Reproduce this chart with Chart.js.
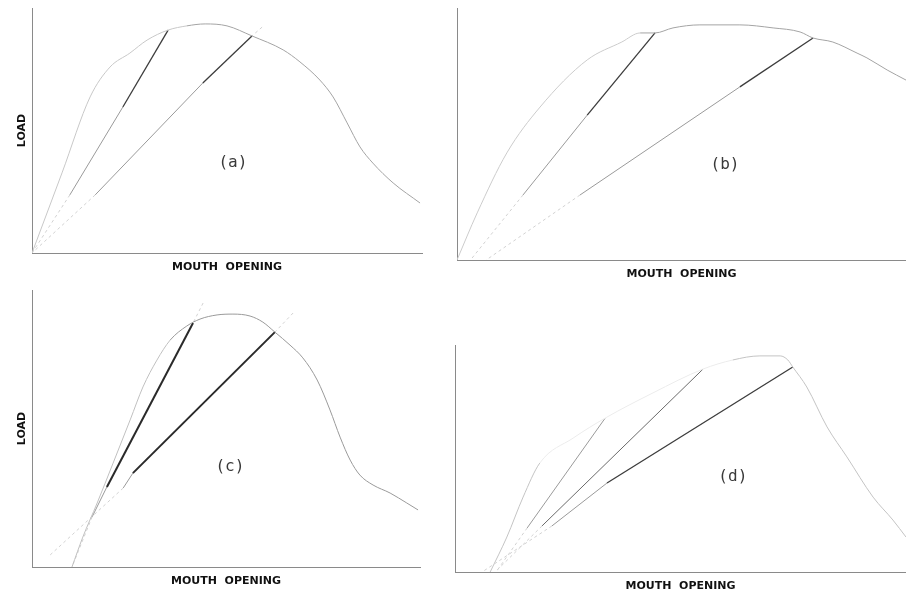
<!DOCTYPE html>
<html>
<head>
<meta charset="utf-8">
<script src="https://cdn.jsdelivr.net/npm/chart.js@4.4.0/dist/chart.umd.min.js"></script>
<style>
  body { margin: 0; background: #fff; }
  #wrap { position: relative; width: 906px; height: 593px; overflow: hidden; background: #fff; }
  canvas { position: absolute; }
</style>
</head>
<body>
<div id="wrap">
  <canvas id="chartA"></canvas>
  <canvas id="chartB"></canvas>
  <canvas id="chartC"></canvas>
  <canvas id="chartD"></canvas>
</div>
<script>
// values, 0..100 of each panel's axes
// (a)
const aEnvX = [0, 7.7, 14.9, 20.0, 25.1, 29.5, 34.9, 39.7, 44.4, 50.0, 56.4, 64.4, 68.7, 73.8, 77.2, 80.8, 84.1, 87.4, 92.6, 99.5];
const aEnvY = [0, 32.7, 63.7, 75.9, 81.6, 86.9, 91.0, 92.7, 93.5, 92.7, 88.6, 82.9, 78.0, 70.6, 63.7, 53.1, 43.3, 36.7, 28.6, 20.4];
const aL1X = [34.9, 23.3, 9.7, 0];
const aL1Y = [91.0, 59.6, 23.7, 0];
const aL2X = [59.0, 56.4, 43.8, 16.2, 0];
const aL2Y = [92.2, 88.6, 69.4, 23.7, 0];

// (b)
const bEnvX = [0, 4.5, 11.1, 18.5, 29.0, 36.7, 40.8, 44.1, 48.1, 54.1, 63.0, 70.4, 76.4, 79.3, 83.7, 89.1, 91.3, 95.8, 100];
const bEnvY = [0, 18.7, 42.5, 60.7, 79.4, 86.5, 90.1, 90.1, 92.1, 93.3, 93.3, 92.1, 90.5, 88.1, 86.5, 82.1, 80.2, 75.4, 71.4];
const bL1X = [44.1, 29.0, 14.7, 3.0];
const bL1Y = [90.1, 57.5, 25.8, 0];
const bL2X = [79.3, 63.0, 27.4, 6.5];
const bL2Y = [88.1, 68.7, 25.8, 0];

// (c)
const cEnvX = [10.3, 13.1, 16.8, 20.9, 25.3, 28.6, 32.2, 35.6, 39.9, 43.3, 47.7, 51.8, 56.2, 59.5, 62.6, 66.5, 69.8, 73.5, 76.8, 79.4, 82.0, 84.5, 87.9, 92.3, 96.6, 99.5];
const cEnvY = [0, 10.8, 23.1, 37.5, 53.1, 65.0, 74.7, 81.9, 87.0, 89.5, 91.0, 91.3, 90.6, 88.4, 84.8, 80.1, 75.5, 67.5, 56.7, 46.9, 38.6, 33.2, 29.6, 26.7, 23.1, 20.6];
const cL1X = [44.1, 41.5, 19.3, 15.5, 10.3];
const cL1Y = [95.3, 88.1, 28.9, 18.1, 0];
const cL2X = [67.3, 62.6, 26.0, 23.5, 4.1];
const cL2Y = [91.7, 84.8, 33.9, 28.5, 3.6];

// (d)
const dEnvX = [7.8, 11.5, 15.1, 18.8, 26.2, 33.3, 43.9, 55.0, 61.6, 67.6, 72.1, 73.8, 74.9, 78.0, 82.5, 86.9, 92.7, 97.1, 100];
const dEnvY = [0, 15.4, 33.0, 48.0, 59.0, 67.8, 78.9, 89.4, 93.4, 95.2, 95.2, 93.4, 90.3, 81.5, 63.9, 50.7, 33.0, 22.9, 15.4];
const dLAX = [33.3, 16.0, 9.1];
const dLAY = [67.8, 19.4, 0];
const dLBX = [55.0, 19.3, 8.9];
const dLBY = [89.4, 20.3, 0];
const dLCX = [74.9, 33.7, 21.5, 6.0];
const dLCY = [90.3, 39.2, 20.3, 0];

const xTitle = 'MOUTH  OPENING';
const yTitle = 'LOAD';

function toPoints(xs, ys) {
  return xs.map((x, i) => ({ x: x, y: ys[i] }));
}

// line look per segment
const segStyle = {
  heavy: { color: '#2a2a2a', width: 2, dash: [] },
  dark:  { color: '#3c3c3c', width: 1.3, dash: [] },
  mid:   { color: '#6a6a6a', width: 1, dash: [] },
  light: { color: '#9a9a9a', width: 1, dash: [] },
  faint: { color: '#d2d2d2', width: 1, dash: [3, 3] }
};

const labelPlugin = {
  id: 'panelLabel',
  afterDatasetsDraw(chart, args, opts) {
    if (!opts.text) return;
    const ctx = chart.ctx;
    const px = chart.scales.x.getPixelForValue(opts.x);
    const py = chart.scales.y.getPixelForValue(opts.y);
    ctx.save();
    ctx.font = '16px "DejaVu Sans Mono"';
    ctx.fillStyle = '#3a3a3a';
    ctx.textAlign = 'center';
    ctx.textBaseline = 'middle';
    ctx.fillText(opts.text, px, py);
    ctx.restore();
  }
};

const titleFont = { family: 'DejaVu Sans', weight: 'bold', size: 11 };
const xPad = { top: 8, bottom: 0 };
const yPad = { top: 0, bottom: 3 };

// env: {x, y, color, faintColor, faintFrom, faintTo} - segments between faintFrom and faintTo are paler
function makePanel(id, box, area, env, lines, label) {
  const cv = document.getElementById(id);
  cv.style.left = box.left + 'px';
  cv.style.top = box.top + 'px';
  cv.style.width = box.w + 'px';
  cv.style.height = box.h + 'px';
  cv.width = box.w;
  cv.height = box.h;

  const lh = titleFont.size * 1.2;
  const yAxisW = lh + yPad.top + yPad.bottom;
  const xAxisH = lh + xPad.top + xPad.bottom;

  const isFaint = c => env.x[c.p0DataIndex] >= env.faintFrom && env.x[c.p1DataIndex] <= env.faintTo;

  const datasets = [{
    data: toPoints(env.x, env.y),
    borderColor: env.color,
    borderWidth: 1,
    pointRadius: 0,
    showLine: true,
    cubicInterpolationMode: 'monotone',
    segment: {
      borderColor: c => isFaint(c) ? env.faintColor : env.color
    }
  }];
  lines.forEach(function(l) {
    datasets.push({
      data: toPoints(l.x, l.y),
      borderColor: segStyle[l.seg[0]].color,
      borderWidth: 1,
      pointRadius: 0,
      showLine: true,
      tension: 0,
      segment: {
        borderColor: c => segStyle[l.seg[c.p0DataIndex]].color,
        borderWidth: c => segStyle[l.seg[c.p0DataIndex]].width,
        borderDash: c => segStyle[l.seg[c.p0DataIndex]].dash
      }
    });
  });

  return new Chart(cv, {
    type: 'scatter',
    data: { datasets: datasets },
    plugins: [labelPlugin],
    options: {
      responsive: false,
      animation: false,
      layout: {
        padding: {
          left: area.left - box.left - yAxisW,
          top: area.top - box.top,
          right: box.left + box.w - area.right,
          bottom: box.top + box.h - area.bottom - xAxisH
        }
      },
      plugins: {
        legend: { display: false },
        tooltip: { enabled: false },
        panelLabel: label
      },
      scales: {
        x: {
          type: 'linear', min: 0, max: 100,
          ticks: { display: false },
          grid: { display: false, drawTicks: false },
          border: { display: true, color: '#8a8a8a', width: 1 },
          title: { display: true, text: xTitle, color: '#111', font: titleFont, padding: xPad }
        },
        y: {
          type: 'linear', min: 0, max: 100,
          ticks: { display: false },
          grid: { display: false, drawTicks: false },
          border: { display: true, color: '#8a8a8a', width: 1 },
          title: { display: true, text: yTitle, color: '#111', font: titleFont, padding: yPad }
        }
      }
    }
  });
}

makePanel('chartA', { left: 0, top: 0, w: 453, h: 290 }, { left: 32, top: 8, right: 422, bottom: 253 },
  { x: aEnvX, y: aEnvY, color: '#a4a4a4', faintColor: '#c8c8c8', faintFrom: 0, faintTo: 40 },
  [{ x: aL1X, y: aL1Y, seg: ['dark', 'light', 'faint'] },
   { x: aL2X, y: aL2Y, seg: ['faint', 'dark', 'light', 'faint'] }],
  { text: '(a)', x: 51.5, y: 36.7 });

makePanel('chartB', { left: 453, top: 0, w: 453, h: 290 }, { left: 457, top: 8, right: 906, bottom: 260 },
  { x: bEnvX, y: bEnvY, color: '#a4a4a4', faintColor: '#cccccc', faintFrom: 0, faintTo: 41 },
  [{ x: bL1X, y: bL1Y, seg: ['dark', 'light', 'faint'] },
   { x: bL2X, y: bL2Y, seg: ['dark', 'light', 'faint'] }],
  { text: '(b)', x: 59.7, y: 37.7 });

makePanel('chartC', { left: 0, top: 288, w: 453, h: 305 }, { left: 32, top: 290, right: 420, bottom: 567 },
  { x: cEnvX, y: cEnvY, color: '#9a9a9a', faintColor: '#c0c0c0', faintFrom: 0, faintTo: 36 },
  [{ x: cL1X, y: cL1Y, seg: ['faint', 'heavy', 'light', 'faint'] },
   { x: cL2X, y: cL2Y, seg: ['faint', 'heavy', 'light', 'faint'] }],
  { text: '(c)', x: 51.0, y: 36.1 });

makePanel('chartD', { left: 453, top: 288, w: 453, h: 305 }, { left: 455, top: 345, right: 906, bottom: 572 },
  { x: dEnvX, y: dEnvY, color: '#c4c4c4', faintColor: '#ececec', faintFrom: 18, faintTo: 62 },
  [{ x: dLAX, y: dLAY, seg: ['light', 'faint'] },
   { x: dLBX, y: dLBY, seg: ['mid', 'faint'] },
   { x: dLCX, y: dLCY, seg: ['dark', 'light', 'faint'] }],
  { text: '(d)', x: 61.6, y: 41.9 });
</script>
</body>
</html>
